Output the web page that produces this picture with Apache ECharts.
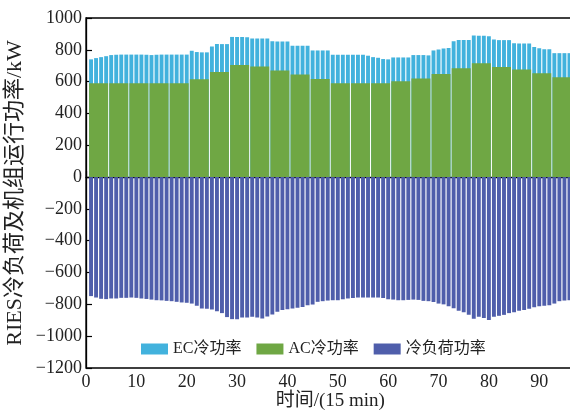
<!DOCTYPE html>
<html><head><meta charset="utf-8">
<script src="https://cdn.jsdelivr.net/npm/echarts@6/dist/echarts.min.js"></script>
<style>html,body{margin:0;padding:0;background:#fff}#c{width:570px;height:410px}</style>
</head><body><div id="c"></div>
<script>
// 15-min time slots 1..96
const timeSlots = Array.from({length: 96}, (_, i) => i + 1);
// Hourly AC cooling power (kW), constant over each hour (4 slots)
const acHourly = [590,590,590,590,590,615,660,705,695,670,645,617,
                  590,590,590,602,620,648,684,715,692,676,652,627];
// EC cooling power (kW) per 15-min slot
const ecPower = [150,158,164,170, 177,179,180,180, 180,180,180,179, 177,179,180,180,
                 180,180,180,180, 179,171,169,169, 161,176,176,176, 176,176,176,174,
                 176,176,176,176, 184,183,183,183, 180,180,180,180, 179,179,179,179,
                 179,179,179,179, 179,179,179,173, 164,160,152,150, 150,150,150,150,
                 147,147,147,145, 148,154,160,164, 170,177,177,177, 175,173,173,171,
                 173,169,169,169, 166,164,164,164, 165,158,152,152, 152,152,152,152];
// Cooling load (kW, plotted negative)
const coolingLoad = [-748,-757,-765,-767,-763,-763,-759,-759,-757,-759,
                     -763,-766,-770,-774,-775,-778,-780,-784,-788,-790,
                     -795,-808,-826,-828,-832,-843,-855,-880,-893,-893,
                     -882,-882,-878,-882,-889,-876,-864,-847,-836,-830,
                     -826,-822,-816,-805,-801,-784,-780,-776,
                     -774,-774,-768,-763,-760,-757,-757,-757,-757,-757,
                     -760,-768,-770,-774,-774,-772,-770,-772,-778,-780,
                     -785,-795,-800,-812,-825,-840,-850,-865,-890,-878,
                     -885,-899,-878,-872,-866,-855,-850,-840,-836,-828,
                     -818,-812,-808,-805,-795,-780,-776,-774];
const seriesNames = ['EC冷功率', 'AC冷功率', '冷负荷功率'];

const FONT = "'Liberation Serif','Times New Roman','Noto Sans CJK SC',serif";
const fmt = v => (v < 0 ? '\u2212' + Math.abs(v) : String(v));

// EC is stacked on top of AC: the blue bar reaches AC + EC, AC (green) drawn over its lower part
const acPerSlot = timeSlots.map(t => acHourly[Math.floor((t - 1) / 4)]);
const ecTop = timeSlots.map((t, i) => [t, acPerSlot[i] + ecPower[i]]);
const acHourCenters = acHourly.map((v, h) => [h * 4 + 2.5, v]);

const chart = echarts.init(document.getElementById('c'), null, {renderer: 'canvas'});
chart.setOption({
  animation: false,
  backgroundColor: '#fff',
  textStyle: {fontFamily: FONT},
  grid: {left: 86, top: 18, bottom: 42, right: -4.5, show: true,
         borderColor: '#000', borderWidth: 1.3, outerBoundsMode: 'none'},
  legend: {
    data: seriesNames, left: 136, top: 336, icon: 'rect',
    itemWidth: 27, itemHeight: 11, itemGap: 15,
    textStyle: {fontFamily: FONT, fontSize: 16, color: '#222'}
  },
  xAxis: [{
    type: 'value', min: 0, max: 97, interval: 10,
    name: '时间/(15 min)', nameLocation: 'middle', nameGap: 24, nameMoveOverlap: false,
    nameTextStyle: {fontFamily: FONT, fontSize: 19, color: '#222', verticalAlign: 'top'},
    axisLine: {lineStyle: {color: '#000', width: 1.3}},
    axisTick: {inside: true, length: 6, lineStyle: {color: '#000', width: 1.2}},
    axisLabel: {fontFamily: FONT, fontSize: 18, color: '#222', margin: 5, showMaxLabel: false,
                formatter: v => (v % 10 === 0 ? String(v) : '')},
    splitLine: {show: false}
  }, {
    type: 'value', min: 0, max: 97, show: false, gridIndex: 0
  }],
  yAxis: {
    type: 'value', min: -1200, max: 1000, interval: 200,
    name: 'RIES冷负荷及机组运行功率/kW', nameLocation: 'middle', nameGap: 60, nameMoveOverlap: false,
    nameTextStyle: {fontFamily: FONT, fontSize: 22, color: '#222'},
    axisLine: {show: true, lineStyle: {color: '#000', width: 1.3}},
    axisTick: {show: true, inside: true, length: 6, lineStyle: {color: '#000', width: 1.2}},
    axisLabel: {fontFamily: FONT, fontSize: 18, color: '#222', margin: 4, formatter: fmt},
    splitLine: {show: false}
  },
  series: [
    {
      name: seriesNames[0], type: 'bar', xAxisIndex: 0, barWidth: 3.9, barGap: '-100%',
      data: ecTop, z: 2,
      itemStyle: {color: '#42b2dd'}
    },
    {
      name: seriesNames[1], type: 'bar', xAxisIndex: 1, barWidth: 19,
      data: acHourCenters, z: 3,
      itemStyle: {color: '#6fa744'}
    },
    {
      name: seriesNames[2], type: 'bar', xAxisIndex: 0, barWidth: 3.9, barGap: '-100%',
      data: timeSlots.map((t, i) => [t, coolingLoad[i]]), z: 2,
      itemStyle: {color: '#4f5eab'}
    }
  ]
});
</script></body></html>
